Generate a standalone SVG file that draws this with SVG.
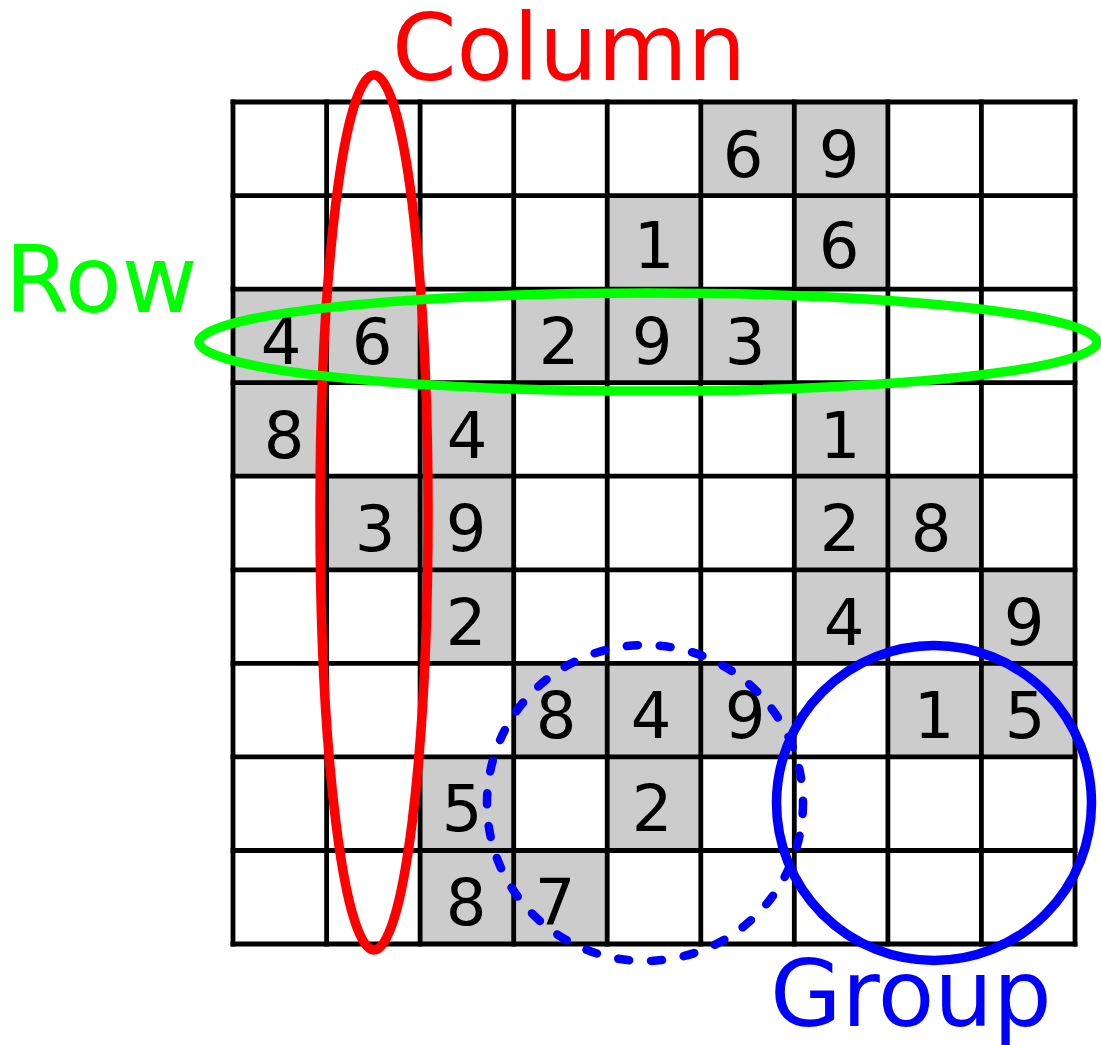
<svg xmlns="http://www.w3.org/2000/svg" width="1101" height="1045" viewBox="0 0 1101 1045">
<style>
.cell{fill:#cccccc}
.grid line{stroke:#000;stroke-width:4.8;stroke-linecap:square}
.d{font-family:"DejaVu Sans",sans-serif;font-size:64px;fill:#000;text-anchor:middle}
.lbl{font-family:"DejaVu Sans",sans-serif;font-size:92.5px}
</style>
<rect width="1101" height="1045" fill="#fff"/>
<g id="cells">
<rect class="cell" x="700.8" y="102" width="93.6" height="93.6"/>
<rect class="cell" x="794.3" y="102" width="93.6" height="93.6"/>
<rect class="cell" x="607.2" y="195.6" width="93.6" height="93.6"/>
<rect class="cell" x="794.3" y="195.6" width="93.6" height="93.6"/>
<rect class="cell" x="233" y="289.1" width="93.6" height="93.6"/>
<rect class="cell" x="326.6" y="289.1" width="93.6" height="93.6"/>
<rect class="cell" x="513.7" y="289.1" width="93.6" height="93.6"/>
<rect class="cell" x="607.2" y="289.1" width="93.6" height="93.6"/>
<rect class="cell" x="700.8" y="289.1" width="93.6" height="93.6"/>
<rect class="cell" x="233" y="382.7" width="93.6" height="93.6"/>
<rect class="cell" x="420.1" y="382.7" width="93.6" height="93.6"/>
<rect class="cell" x="794.3" y="382.7" width="93.6" height="93.6"/>
<rect class="cell" x="326.6" y="476.2" width="93.6" height="93.6"/>
<rect class="cell" x="420.1" y="476.2" width="93.6" height="93.6"/>
<rect class="cell" x="794.3" y="476.2" width="93.6" height="93.6"/>
<rect class="cell" x="887.9" y="476.2" width="93.6" height="93.6"/>
<rect class="cell" x="420.1" y="569.8" width="93.6" height="93.6"/>
<rect class="cell" x="794.3" y="569.8" width="93.6" height="93.6"/>
<rect class="cell" x="981.4" y="569.8" width="93.6" height="93.6"/>
<rect class="cell" x="513.7" y="663.4" width="93.6" height="93.6"/>
<rect class="cell" x="607.2" y="663.4" width="93.6" height="93.6"/>
<rect class="cell" x="700.8" y="663.4" width="93.6" height="93.6"/>
<rect class="cell" x="887.9" y="663.4" width="93.6" height="93.6"/>
<rect class="cell" x="981.4" y="663.4" width="93.6" height="93.6"/>
<rect class="cell" x="420.1" y="756.9" width="93.6" height="93.6"/>
<rect class="cell" x="607.2" y="756.9" width="93.6" height="93.6"/>
<rect class="cell" x="420.1" y="850.5" width="93.6" height="93.6"/>
<rect class="cell" x="513.7" y="850.5" width="93.6" height="93.6"/>
</g>
<g id="grid" class="grid">
<line x1="233" y1="102" x2="233" y2="944"/>
<line x1="326.6" y1="102" x2="326.6" y2="944"/>
<line x1="420.1" y1="102" x2="420.1" y2="944"/>
<line x1="513.7" y1="102" x2="513.7" y2="944"/>
<line x1="607.2" y1="102" x2="607.2" y2="944"/>
<line x1="700.8" y1="102" x2="700.8" y2="944"/>
<line x1="794.3" y1="102" x2="794.3" y2="944"/>
<line x1="887.9" y1="102" x2="887.9" y2="944"/>
<line x1="981.4" y1="102" x2="981.4" y2="944"/>
<line x1="1075" y1="102" x2="1075" y2="944"/>
<line x1="233" y1="102" x2="1075" y2="102"/>
<line x1="233" y1="195.6" x2="1075" y2="195.6"/>
<line x1="233" y1="289.1" x2="1075" y2="289.1"/>
<line x1="233" y1="382.7" x2="1075" y2="382.7"/>
<line x1="233" y1="476.2" x2="1075" y2="476.2"/>
<line x1="233" y1="569.8" x2="1075" y2="569.8"/>
<line x1="233" y1="663.4" x2="1075" y2="663.4"/>
<line x1="233" y1="756.9" x2="1075" y2="756.9"/>
<line x1="233" y1="850.5" x2="1075" y2="850.5"/>
<line x1="233" y1="944" x2="1075" y2="944"/>
</g>
<g id="digits">
<text class="d" x="743" y="177">6</text>
<text class="d" x="839" y="177">9</text>
<text class="d" x="654" y="268">1</text>
<text class="d" x="839" y="268">6</text>
<text class="d" x="281" y="364">4</text>
<text class="d" x="372" y="364">6</text>
<text class="d" x="559" y="364">2</text>
<text class="d" x="652" y="364">9</text>
<text class="d" x="745" y="364">3</text>
<text class="d" x="284" y="458">8</text>
<text class="d" x="467" y="458">4</text>
<text class="d" x="840" y="458">1</text>
<text class="d" x="375" y="551">3</text>
<text class="d" x="466" y="551">9</text>
<text class="d" x="840" y="551">2</text>
<text class="d" x="931" y="551">8</text>
<text class="d" x="466" y="645">2</text>
<text class="d" x="844" y="645">4</text>
<text class="d" x="1024" y="645">9</text>
<text class="d" x="556" y="738">8</text>
<text class="d" x="651" y="738">4</text>
<text class="d" x="745" y="738">9</text>
<text class="d" x="934" y="738">1</text>
<text class="d" x="1025" y="738">5</text>
<text class="d" x="462" y="831">5</text>
<text class="d" x="652" y="831">2</text>
<text class="d" x="466" y="925">8</text>
<text class="d" x="555" y="925">7</text>
</g>
<g id="column">
<ellipse cx="374" cy="512.5" rx="54" ry="437.5" fill="none" stroke="#ff0000" stroke-width="9.5"/>
<text class="lbl" x="392" y="80" fill="#ff0000">Column</text>
</g>
<g id="row">
<ellipse cx="648" cy="342" rx="449" ry="49" fill="none" stroke="#00ff00" stroke-width="9.5"/>
<text class="lbl" x="5" y="312" fill="#00ff00">Row</text>
</g>
<g id="group">
<circle cx="645" cy="803" r="158" fill="none" stroke="#0000ff" stroke-width="8.5" stroke-dasharray="11 22" stroke-linecap="round"/>
<circle cx="934" cy="803" r="157.5" fill="none" stroke="#0000ff" stroke-width="9.5"/>
<text class="lbl" x="770" y="1026" fill="#0000ff">Group</text>
</g>
</svg>
